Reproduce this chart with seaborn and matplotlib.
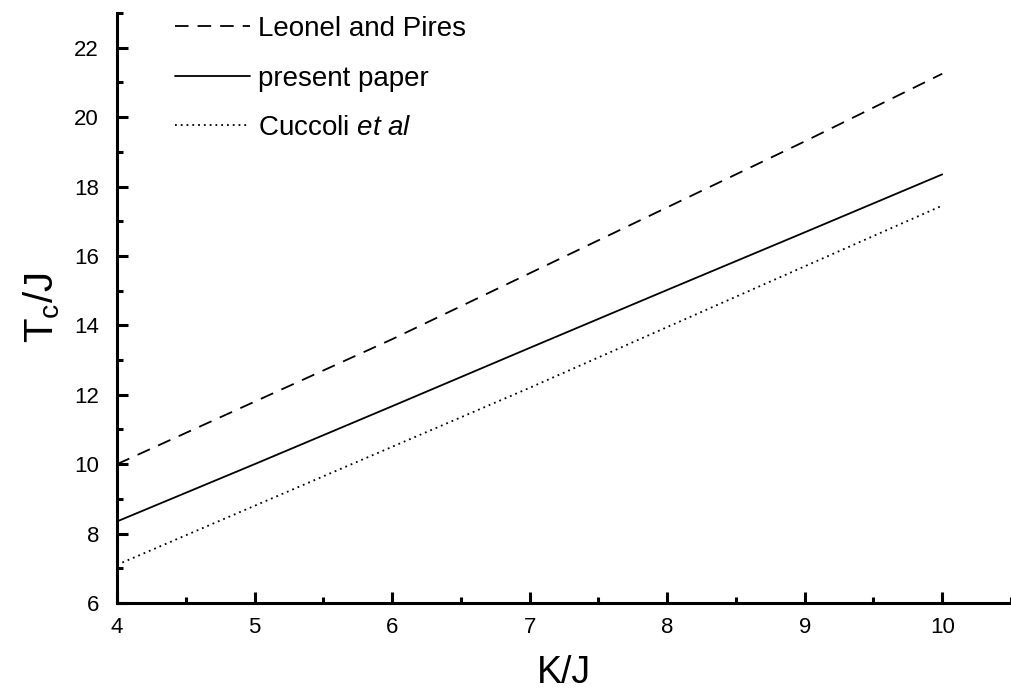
import numpy as np
import pandas as pd
import matplotlib
matplotlib.use('Agg')
import matplotlib.pyplot as plt
import seaborn as sns
from matplotlib.ticker import MultipleLocator

# values
k_over_j = [4, 5, 6, 7, 8, 9, 10]
leonel_pires = [10.0, 11.8, 13.6, 15.5, 17.4, 19.3, 21.25]
present_paper = [8.35, 10.0, 11.67, 13.35, 15.02, 16.68, 18.35]
cuccoli = [7.1, 8.8, 10.5, 12.2, 13.95, 15.7, 17.45]

labels = ['Leonel and Pires', 'present paper', r'Cuccoli $\mathit{et\ al}$']
line_styles = [(0, (7.5, 5)), '-', (0, (1, 2.2))]

sns.set_style('ticks')
plt.rcParams['font.family'] = ['Liberation Sans', 'DejaVu Sans']
plt.rcParams['mathtext.fontset'] = 'custom'
plt.rcParams['mathtext.rm'] = 'Liberation Sans'
plt.rcParams['mathtext.it'] = 'Liberation Sans:italic'
plt.rcParams['text.color'] = 'black'
plt.rcParams['axes.labelcolor'] = 'black'

fig = plt.figure(figsize=(10.11, 6.95), dpi=100)
ax = fig.add_axes([117 / 1011, 92 / 695, 1 - 117 / 1011, (603 - 13) / 695])

for ys, lab, ls in zip([leonel_pires, present_paper, cuccoli], labels, line_styles):
    sns.lineplot(x=k_over_j, y=ys, ax=ax, color='black', linewidth=1.3,
                 linestyle=ls, label=lab)

ax.set_xlim(4, 10.5)
ax.set_ylim(6, 23)
ax.xaxis.set_major_locator(MultipleLocator(1))
ax.xaxis.set_minor_locator(MultipleLocator(0.5))
ax.yaxis.set_major_locator(MultipleLocator(2))
ax.yaxis.set_minor_locator(MultipleLocator(1))

ax.spines['top'].set_visible(False)
ax.spines['right'].set_visible(False)
for s in ['left', 'bottom']:
    ax.spines[s].set_linewidth(2.2)
    ax.spines[s].set_color('black')

ax.tick_params(which='major', direction='in', length=8, width=2.2,
               labelsize=16, colors='black')
ax.tick_params(which='minor', direction='in', length=4.5, width=2.2, colors='black')
ax.tick_params(axis='y', which='major', pad=13)
ax.tick_params(axis='x', which='major', pad=10)

ax.set_xlabel('K/J', fontsize=27, labelpad=12)
ax.set_ylabel(r'T$_\mathregular{c}$/J', fontsize=29, labelpad=9)

ax.legend(loc='upper left', bbox_to_anchor=(175 / 1011, 1 - 16 / 695),
          bbox_transform=fig.transFigure, frameon=False, fontsize=20,
          borderpad=0, borderaxespad=0, handlelength=2.7, handletextpad=0.3,
          labelspacing=0.85)

plt.savefig('out.png', dpi=100)
plt.close()
